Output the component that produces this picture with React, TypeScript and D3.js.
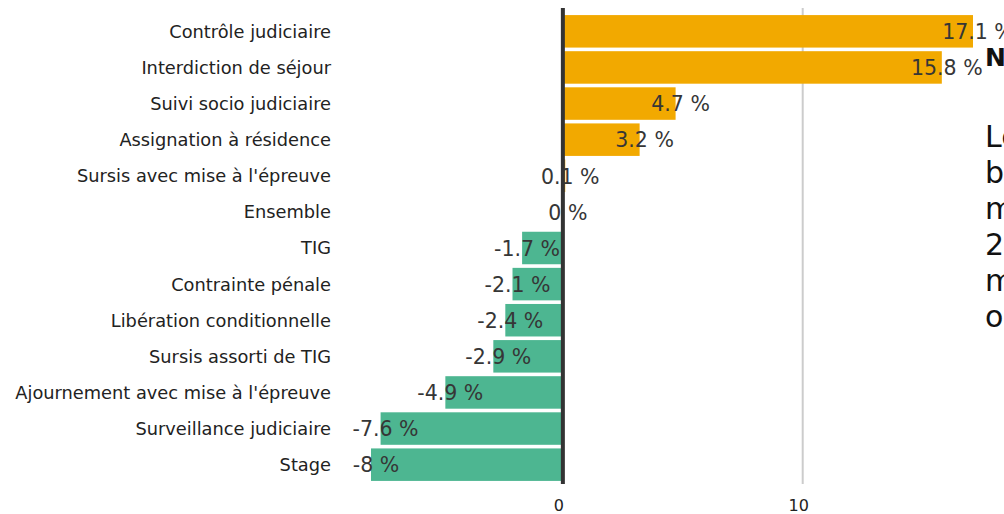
import React, { useEffect, useRef } from "react";
import * as d3 from "d3";

const categories = [
  "Contrôle judiciaire",
  "Interdiction de séjour",
  "Suivi socio judiciaire",
  "Assignation à résidence",
  "Sursis avec mise à l'épreuve",
  "Ensemble",
  "TIG",
  "Contrainte pénale",
  "Libération conditionnelle",
  "Sursis assorti de TIG",
  "Ajournement avec mise à l'épreuve",
  "Surveillance judiciaire",
  "Stage",
];
const values = [17.1, 15.8, 4.7, 3.2, 0.1, 0, -1.7, -2.1, -2.4, -2.9, -4.9, -7.6, -8];
const xTicks = [0, 10];
const noteTitle = "Note";
const noteLines = ["Lecture :", "bracelet", "mesures", "2016", "moins", "ou"];

const W = 1004;
const H = 514;

const App = () => {
  const svgRef = useRef<SVGSVGElement>(null);

  useEffect(() => {
    const svg = d3.select(svgRef.current);
    svg.selectAll("*").remove();

    const font = "'DejaVu Sans', sans-serif";
    const x = d3.scaleLinear().domain([-8, 17.1]).range([371, 973]);
    const y = d3.scaleBand().domain(categories).range([14, 482]).paddingInner(0.1).paddingOuter(0.03);

    const data = categories.map((c, i) => ({ name: c, value: values[i] }));

    // gridline at 10
    svg.append("line")
      .attr("x1", x(10)).attr("x2", x(10))
      .attr("y1", 8).attr("y2", 484)
      .attr("stroke", "#cccccc").attr("stroke-width", 2);

    // bars
    svg.selectAll("rect.bar")
      .data(data.filter(d => d.value !== 0))
      .join("rect")
      .attr("class", "bar")
      .attr("x", d => Math.min(x(0), x(d.value)))
      .attr("width", d => Math.abs(x(d.value) - x(0)))
      .attr("y", d => y(d.name)!)
      .attr("height", y.bandwidth())
      .attr("fill", d => (d.value > 0 ? "#f2a900" : "#4db691"));

    // zero line
    svg.append("line")
      .attr("x1", x(0)).attr("x2", x(0))
      .attr("y1", 8).attr("y2", 484)
      .attr("stroke", "#333333").attr("stroke-width", 4);

    // value labels, centred just past the bar end
    svg.selectAll("text.val")
      .data(data)
      .join("text")
      .attr("class", "val")
      .attr("x", d => x(d.value) + 5)
      .attr("y", d => y(d.name)! + y.bandwidth() / 2)
      .attr("dy", "0.38em")
      .attr("text-anchor", "middle")
      .attr("font-family", font)
      .attr("font-size", 20.5)
      .attr("fill", "#363636")
      .text(d => `${d.value} %`);

    // category labels
    svg.selectAll("text.cat")
      .data(categories)
      .join("text")
      .attr("class", "cat")
      .attr("x", 331)
      .attr("y", d => y(d)! + y.bandwidth() / 2)
      .attr("dy", "0.36em")
      .attr("text-anchor", "end")
      .attr("font-family", font)
      .attr("font-size", 17.8)
      .attr("fill", "#222222")
      .text(d => d);

    // x axis labels
    svg.selectAll("text.tick")
      .data(xTicks)
      .join("text")
      .attr("class", "tick")
      .attr("x", d => x(d) - 4)
      .attr("y", 511)
      .attr("text-anchor", "middle")
      .attr("font-family", font)
      .attr("font-size", 16)
      .attr("fill", "#222222")
      .text(d => d);

    // annotation (runs off the right edge, as in the original)
    svg.append("text")
      .attr("x", 985).attr("y", 66)
      .attr("font-family", font)
      .attr("font-size", 25)
      .attr("font-weight", "bold")
      .attr("fill", "#111111")
      .text(noteTitle);

    svg.selectAll("text.note")
      .data(noteLines)
      .join("text")
      .attr("class", "note")
      .attr("x", 985)
      .attr("y", (d, i) => 147 + i * 36)
      .attr("font-family", font)
      .attr("font-size", 30)
      .attr("fill", "#111111")
      .text(d => d);
  }, []);

  return (
    <svg
      ref={svgRef}
      width={W}
      height={H}
      style={{ position: "absolute", left: 0, top: 0, overflow: "hidden" }}
    />
  );
};

export default App;
